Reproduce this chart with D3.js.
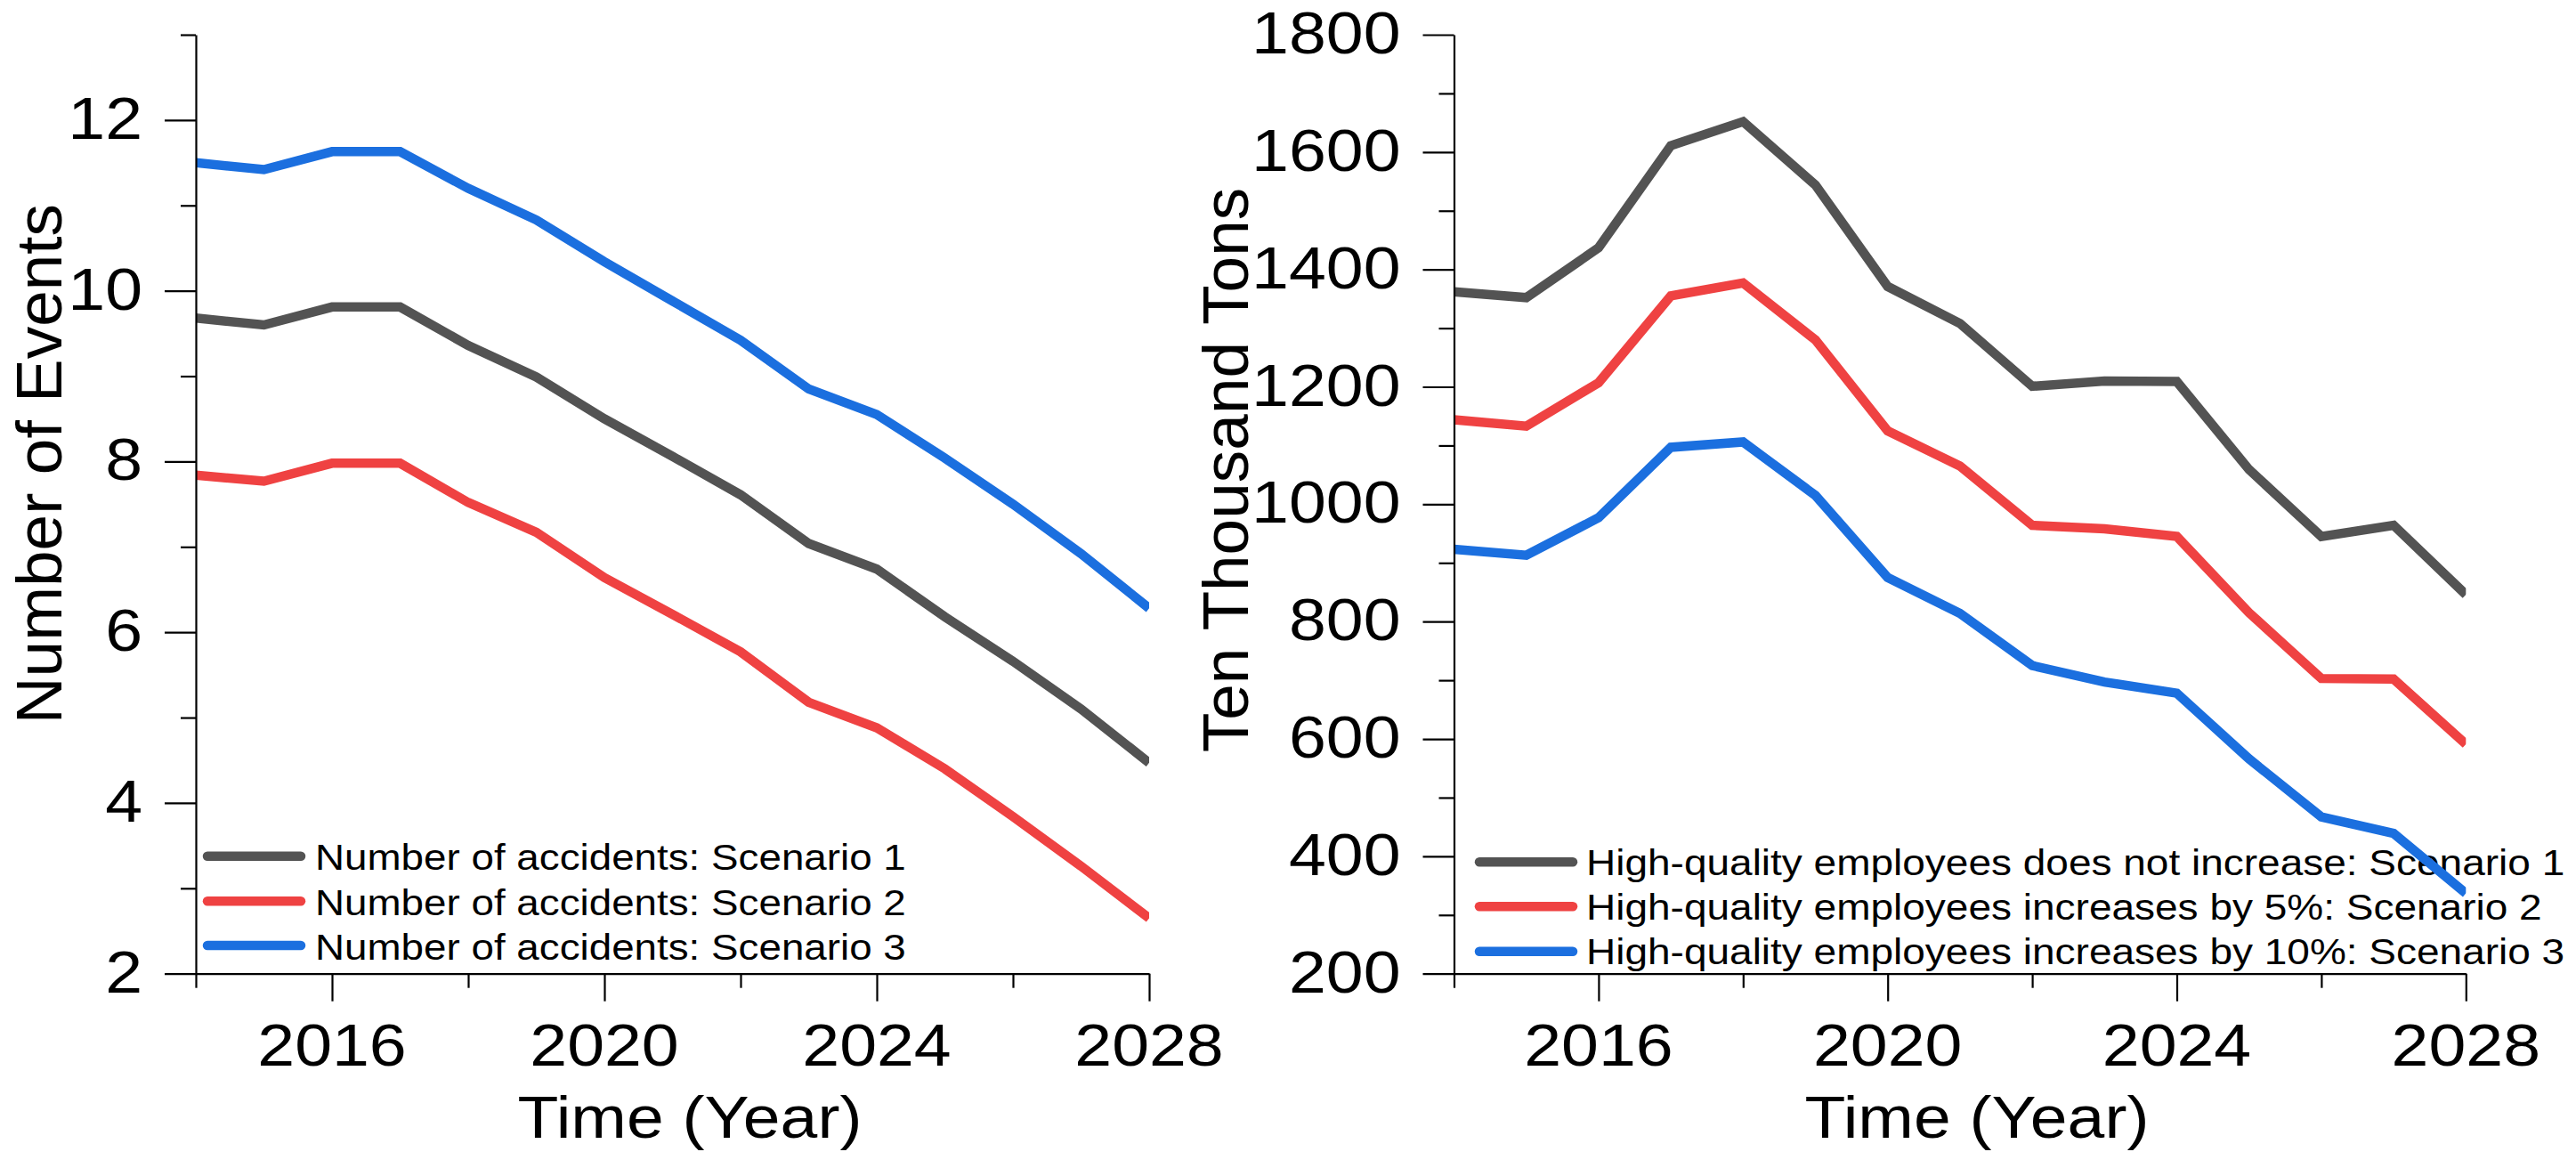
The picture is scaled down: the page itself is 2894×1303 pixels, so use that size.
<!DOCTYPE html>
<html>
<head>
<meta charset="utf-8">
<script src="https://cdn.jsdelivr.net/npm/d3@7/dist/d3.min.js"></script>
<style>
  html, body { margin: 0; padding: 0; background: #ffffff; }
  svg { display: block; }
</style>
</head>
<body>
<svg id="chart" width="2894" height="1303"></svg>
<script>
// ---------------- data ----------------
const years = [2014, 2015, 2016, 2017, 2018, 2019, 2020, 2021, 2022, 2023, 2024, 2025, 2026, 2027, 2028];

const accidentsScenario1 = [9.68, 9.60, 9.81, 9.81, 9.36, 8.99, 8.50, 8.06, 7.61, 7.04, 6.74, 6.18, 5.66, 5.10, 4.47];
const accidentsScenario2 = [7.84, 7.77, 7.98, 7.98, 7.52, 7.17, 6.64, 6.21, 5.77, 5.18, 4.88, 4.40, 3.84, 3.26, 2.65];
const accidentsScenario3 = [11.50, 11.42, 11.63, 11.63, 11.20, 10.83, 10.34, 9.88, 9.42, 8.85, 8.55, 8.04, 7.50, 6.92, 6.28];

const tonsScenario1 = [1362, 1352, 1437, 1611, 1652, 1544, 1371, 1308, 1201, 1210, 1209, 1059, 945, 964, 846];
const tonsScenario2 = [1144, 1133, 1207, 1355, 1377, 1280, 1125, 1065, 964, 958, 945, 815, 703, 702, 591];
const tonsScenario3 = [923, 913, 977, 1097, 1106, 1015, 875, 814, 725, 697, 678, 566, 467, 439, 337];

const xMajorTicks = [2016, 2020, 2024, 2028];
const xMinorTicks = [2014, 2018, 2022, 2026];
const leftYMajorTicks = [2, 4, 6, 8, 10, 12];
const leftYMinorTicks = [3, 5, 7, 9, 11, 13];
const rightYMajorTicks = [200, 400, 600, 800, 1000, 1200, 1400, 1600, 1800];
const rightYMinorTicks = [300, 500, 700, 900, 1100, 1300, 1500, 1700];

const leftLegendLabels = [
  "Number of accidents: Scenario 1",
  "Number of accidents: Scenario 2",
  "Number of accidents: Scenario 3"
];
const rightLegendLabels = [
  "High-quality employees does not increase: Scenario 1",
  "High-quality employees increases by 5%: Scenario 2",
  "High-quality employees increases by 10%: Scenario 3"
];
const xTitle = "Time (Year)";
const leftYTitle = "Number of Events";
const rightYTitle = "Ten Thousand Tons";

// ---------------- style / layout ----------------
const COLORS = ["#535353", "#EF4242", "#1B6FDF"];
const FONT = "'Liberation Sans', Arial, Helvetica, sans-serif";
const Y_TOP = 39, Y_BOTTOM = 1093.7;

const layout = [
  {
    x0: 220, x1: 1291, yDomain: [2, 13],
    series: [accidentsScenario1, accidentsScenario2, accidentsScenario3],
    yMajor: leftYMajorTicks, yMinor: leftYMinorTicks,
    legendLabels: leftLegendLabels, yTitle: leftYTitle,
    yTitleX: 69, yTitleY: 521, xTitleX: 775,
    legX0: 233, legX1: 338, legTextX: 354, legY: [961.7, 1012.3, 1062], legBase: 15.6,
    legFont: 40.5, legScale: 1.13
  },
  {
    x0: 1633.5, x1: 2770.3, yDomain: [200, 1800],
    series: [tonsScenario1, tonsScenario2, tonsScenario3],
    yMajor: rightYMajorTicks, yMinor: rightYMinorTicks,
    legendLabels: rightLegendLabels, yTitle: rightYTitle,
    yTitleX: 1401.7, yTitleY: 528, xTitleX: 2221,
    legX0: 1662, legX1: 1767, legTextX: 1782, legY: [968.3, 1018.3, 1068.7], legBase: 14.4,
    legFont: 40, legScale: 1.15
  }
];

const svg = d3.select("#chart");
svg.append("rect").attr("width", 2894).attr("height", 1303).attr("fill", "#ffffff");

function addText(parent, x, y, str, size, anchor, sx, rotate) {
  return parent.append("text")
    .attr("transform", `translate(${x},${y})` + (rotate ? ` rotate(${rotate})` : "") + ` scale(${sx},1)`)
    .attr("x", 0).attr("y", 0)
    .attr("font-family", FONT)
    .attr("font-size", size)
    .attr("text-anchor", anchor)
    .attr("fill", "#000")
    .text(str);
}

layout.forEach((p, pi) => {
  const g = svg.append("g");
  const x = d3.scaleLinear().domain([years[0], years[years.length - 1]]).range([p.x0, p.x1]);
  const y = d3.scaleLinear().domain(p.yDomain).range([Y_BOTTOM, Y_TOP]);

  // legend (drawn first: data lines pass over it)
  p.legendLabels.forEach((lab, i) => {
    g.append("line")
      .attr("x1", p.legX0).attr("x2", p.legX1)
      .attr("y1", p.legY[i]).attr("y2", p.legY[i])
      .attr("stroke", COLORS[i]).attr("stroke-width", 10.5).attr("stroke-linecap", "round");
    addText(g, p.legTextX, p.legY[i] + p.legBase, lab, p.legFont, "start", p.legScale);
  });

  // clip
  const clipId = "clip" + pi;
  svg.append("clipPath").attr("id", clipId)
    .append("rect").attr("x", p.x0).attr("y", 0).attr("width", p.x1 - p.x0).attr("height", 1303);

  // lines
  const line = d3.line().x((d, i) => x(years[i])).y(d => y(d)).curve(d3.curveLinear);
  const lg = g.append("g").attr("clip-path", `url(#${clipId})`);
  p.series.forEach((s, si) => {
    lg.append("path").datum(s)
      .attr("d", line)
      .attr("fill", "none")
      .attr("stroke", COLORS[si])
      .attr("stroke-width", 10.5)
      .attr("stroke-linejoin", "miter");
  });

  // y axis: minor + major
  const yMinorAxis = d3.axisLeft(y).tickValues(p.yMinor).tickSize(17).tickSizeOuter(0).tickFormat("");
  const yMajorAxis = d3.axisLeft(y).tickValues(p.yMajor).tickSize(35).tickSizeOuter(0).tickFormat("");
  g.append("g").attr("transform", `translate(${p.x0},0)`).call(yMinorAxis);
  const yb = g.append("g").attr("transform", `translate(${p.x0},0)`).call(yMajorAxis);
  yb.select(".domain").remove();

  // x axis
  const xMinorAxis = d3.axisBottom(x).tickValues(xMinorTicks).tickSize(16).tickSizeOuter(0).tickFormat("");
  const xMajorAxis = d3.axisBottom(x).tickValues(xMajorTicks).tickSize(31).tickSizeOuter(0).tickFormat("");
  g.append("g").attr("transform", `translate(0,${Y_BOTTOM})`).call(xMinorAxis);
  const xb = g.append("g").attr("transform", `translate(0,${Y_BOTTOM})`).call(xMajorAxis);
  xb.select(".domain").remove();

  g.selectAll(".domain, .tick line").attr("stroke", "#000").attr("stroke-width", 2.2);

  // tick labels
  p.yMajor.forEach(v => addText(g, p.x0 - 60, y(v) + 21, String(v), 66, "end", 1.14));
  xMajorTicks.forEach(v => addText(g, x(v), Y_BOTTOM + 103.3, String(v), 66, "middle", 1.14));

  // titles
  addText(g, p.xTitleX, 1278, xTitle, 66.5, "middle", 1.13);
  addText(g, p.yTitleX, p.yTitleY, p.yTitle, 73, "middle", 1, -90);
});
</script>
</body>
</html>
